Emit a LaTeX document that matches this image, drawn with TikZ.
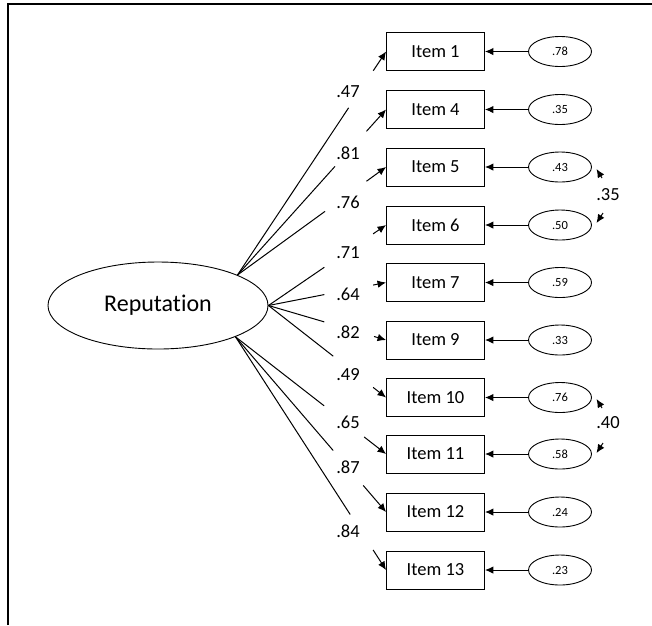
\documentclass[tikz,border=0pt]{standalone}
\usepackage{fontspec}
\setmainfont{Carlito}[Ligatures={NoCommon,NoRequired,NoContextual}]
\usetikzlibrary{shapes.geometric,arrows.meta,calc}
\newcommand\ldgline[4]{%
  \draw[conn] (#1) -- ($(#1)!#3!(#2.west)$);
  \draw[arr] ($(#1)!#4!(#2.west)$) -- (#2.west);
}
\begin{document}
\begin{tikzpicture}[x=1pt,y=-1pt,
  item/.style={draw, line width=0.9pt, minimum width=98pt, minimum height=38pt, inner sep=0pt, font=\fontsize{18.5}{20}\selectfont},
  err/.style={draw, ellipse, line width=0.9pt, minimum width=63pt, minimum height=30pt, inner sep=0pt, font=\fontsize{12.5}{14}\selectfont},
  lat/.style={draw, ellipse, line width=0.9pt, minimum width=220pt, minimum height=87pt, inner sep=0pt, font=\fontsize{24}{28}\selectfont},
  wt/.style={font=\fontsize{18.5}{20}\selectfont, inner sep=0pt},
  conn/.style={line width=1pt},
  arr/.style={line width=1pt, -{Latex[length=8.5pt,width=7.5pt]}},
]
\useasboundingbox (0,0) rectangle (652,625);
\coordinate (fa) at (8,625);
\coordinate (fb) at (8,4);
\coordinate (fc) at (652,4);
\draw[line width=2pt] (fa) -- (fb) -- (fc);

\node[lat] (rep) at (158,305.5) {Reputation};
\coordinate (su) at (rep.21.6);
\coordinate (sm) at (rep.east);
\coordinate (sl) at (rep.-22.9);

\foreach \n/\t/\y/\e in {1/Item 1/51.5/.78, 4/Item 4/109.5/.35, 5/Item 5/167/.43,
  6/Item 6/225/.50, 7/Item 7/282.5/.59, 9/Item 9/340/.33, 10/Item 10/397.5/.76,
  11/Item 11/454/.58, 12/Item 12/512/.24, 13/Item 13/570/.23}{
  \node[item] (i\n) at (435.5,\y) {\t};
  \node[err] (e\n) at (560,\y) {\e};
  \draw[arr] (e\n) -- (i\n);
}

\ldgline{su}{i1}{0.748}{0.914}
\ldgline{su}{i4}{0.656}{0.868}
\ldgline{su}{i5}{0.589}{0.868}
\ldgline{sm}{i6}{0.475}{0.89}
\ldgline{sm}{i7}{0.475}{0.89}
\ldgline{sm}{i9}{0.475}{0.898}
\ldgline{sm}{i10}{0.551}{0.89}
\ldgline{sl}{i11}{0.589}{0.854}
\ldgline{sl}{i12}{0.649}{0.848}
\ldgline{sl}{i13}{0.762}{0.914}

\node[wt] (l1) at (348,92) {.47};
\node[wt] (l4) at (348,153) {.81};
\node[wt] (l5) at (348,202) {.76};
\node[wt] (l6) at (348,253) {.71};
\node[wt] (l7) at (348,294) {.64};
\node[wt] (l9) at (348,332) {.82};
\node[wt] (l10) at (348,375) {.49};
\node[wt] (l11) at (348,422) {.65};
\node[wt] (l12) at (348,467) {.87};
\node[wt] (l13) at (348,531) {.84};

\coordinate (ca1) at (602,178);
\coordinate (ca2) at (596.5,169);
\coordinate (cb1) at (603,213);
\coordinate (cb2) at (596.5,223);
\draw[arr] (ca1) -- (ca2);
\draw[arr] (cb1) -- (cb2);
\node[wt] (k1) at (608,195) {.35};
\coordinate (cc1) at (602,408);
\coordinate (cc2) at (596.5,399);
\coordinate (cd1) at (603,443);
\coordinate (cd2) at (596.5,453);
\draw[arr] (cc1) -- (cc2);
\draw[arr] (cd1) -- (cd2);
\node[wt] (k2) at (608,423) {.40};
\end{tikzpicture}
\end{document}
